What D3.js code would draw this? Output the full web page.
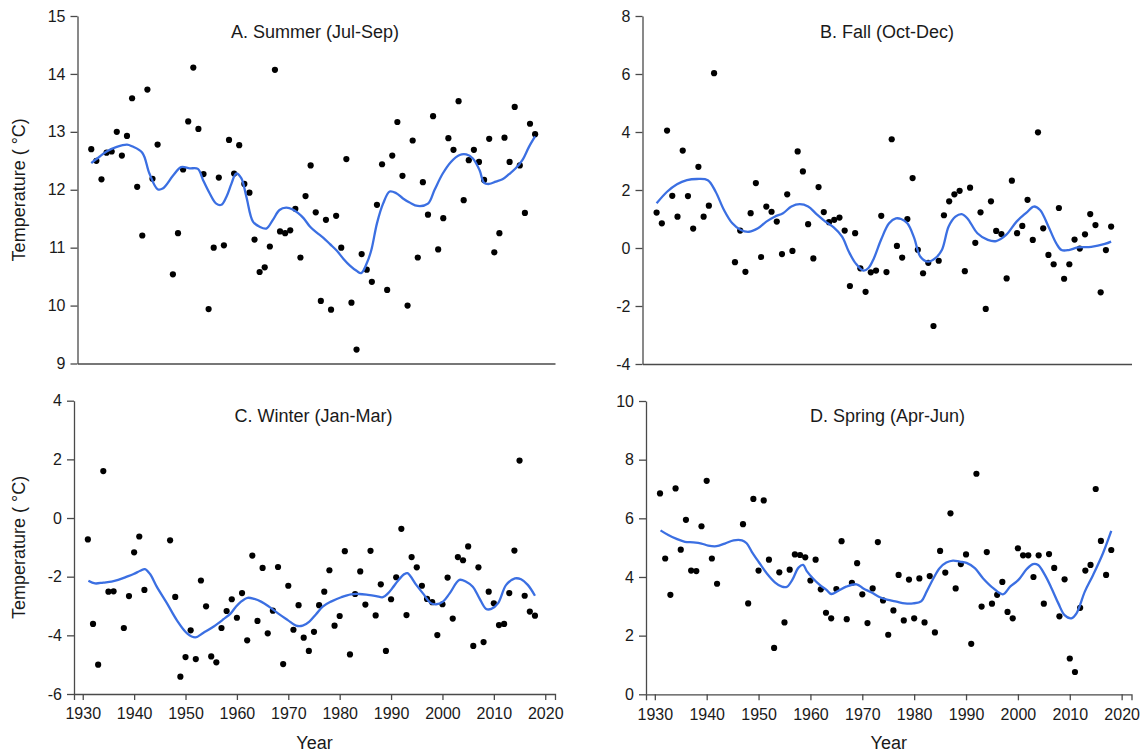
<!DOCTYPE html>
<html>
<head>
<meta charset="utf-8">
<script src="https://cdn.jsdelivr.net/npm/d3@7"></script>
<style>
  body { margin: 0; background: #fff; }
  svg { display: block; font-family: "Liberation Sans", Arial, sans-serif; }
  .axis path, .axis line { stroke: #4a4a4a; stroke-width: 1.3; }
  .axis text { fill: #1a1a1a; font-size: 16px; font-family: "Liberation Sans", Arial, sans-serif; }
</style>
</head>
<body>
<svg id="chart" width="1146" height="752"></svg>
<script>
const years = [1931,1932,1933,1934,1935,1936,1937,1938,1939,1940,1941,1942,1943,1944,1945,1946,1947,1948,1949,1950,
  1951,1952,1953,1954,1955,1956,1957,1958,1959,1960,1961,1962,1963,1964,1965,1966,1967,1968,1969,1970,
  1971,1972,1973,1974,1975,1976,1977,1978,1979,1980,1981,1982,1983,1984,1985,1986,1987,1988,1989,1990,
  1991,1992,1993,1994,1995,1996,1997,1998,1999,2000,2001,2002,2003,2004,2005,2006,2007,2008,2009,2010,
  2011,2012,2013,2014,2015,2016,2017,2018];

// seasonal mean temperatures, one per year above (null = no data)
const summer = [12.70,12.50,12.18,12.64,12.66,13.00,12.59,12.93,13.58,12.05,11.21,13.73,12.19,12.78,null,null,10.54,11.25,12.35,13.18,
  14.11,13.05,12.27,9.94,11.00,12.21,11.04,12.86,12.28,12.77,12.10,11.95,11.14,10.58,10.66,11.02,14.07,11.28,11.25,11.30,
  11.67,10.83,11.89,12.42,11.61,10.08,11.48,9.93,11.55,11.00,12.53,10.05,9.24,10.89,10.62,10.41,11.74,12.44,10.27,12.59,
  13.17,12.24,10.00,12.85,10.83,12.13,11.57,13.27,10.97,11.51,12.89,12.69,13.53,11.82,12.51,12.69,12.48,12.17,12.88,10.92,
  11.25,12.90,12.48,13.43,12.42,11.60,13.14,12.96];
const fall = [1.22,0.85,4.05,1.80,1.08,3.36,1.79,0.67,2.80,1.08,1.46,6.03,null,null,null,-0.49,0.60,-0.82,1.20,2.24,
  -0.31,1.43,1.25,0.91,-0.21,1.85,-0.10,3.33,2.64,0.82,-0.36,2.10,1.24,0.89,0.97,1.05,0.60,-1.31,0.51,-0.70,
  -1.51,-0.84,-0.78,1.11,-0.83,3.75,0.07,-0.33,1.00,2.41,-0.06,-0.87,-0.51,-2.69,-0.44,1.13,1.61,1.85,1.97,-0.80,
  2.08,0.18,1.23,-2.10,1.61,0.59,0.48,-1.05,2.32,0.51,0.76,1.66,0.28,3.99,0.68,-0.24,-0.56,1.38,-1.06,-0.56,
  0.29,-0.02,0.47,1.17,0.79,-1.53,-0.07,0.74];
const winter = [-0.73,-3.61,-5.00,1.60,-2.51,-2.50,null,-3.75,-2.66,-1.17,-0.63,-2.45,null,null,null,null,-0.76,-2.69,-5.41,-4.74,
  -3.83,-4.81,-2.13,-3.01,-4.72,-4.92,-3.75,-3.17,-2.77,-3.40,-2.56,-4.17,-1.28,-3.51,-1.70,-3.93,-3.16,-1.67,-4.98,-2.31,
  -3.81,-2.97,-4.08,-4.53,-3.88,-2.97,-2.51,-1.78,-3.67,-3.34,-1.13,-4.65,-2.59,-1.82,-2.95,-1.12,-3.32,-2.26,-4.53,-2.77,
  -2.02,-0.37,-3.31,-1.33,-1.68,-2.31,-2.76,-2.87,-3.99,-2.94,-2.03,-3.43,-1.33,-1.44,-0.97,-4.36,-1.68,-4.23,-2.51,-2.91,
  -3.65,-3.61,-2.56,-1.11,1.96,-2.65,-3.19,-3.33];
const spring = [6.85,4.63,3.39,7.02,4.93,5.95,4.22,4.20,5.73,7.28,4.63,3.77,null,null,null,null,5.80,3.10,6.66,4.22,
  6.61,4.59,1.58,4.16,2.45,4.25,4.77,4.75,4.67,3.88,4.59,3.58,2.78,2.59,3.59,5.22,2.56,3.80,4.47,3.41,
  2.43,3.61,5.19,3.20,2.03,2.86,4.07,2.52,3.91,2.59,3.95,2.45,4.03,2.11,4.89,4.15,6.17,3.61,4.44,4.77,
  1.72,7.52,2.99,4.85,3.09,3.39,3.83,2.81,2.59,4.98,4.74,4.74,4.00,4.74,3.09,4.78,4.31,2.66,3.92,1.22,
  0.76,2.95,4.22,4.41,7.00,5.23,4.07,4.92];

// smoothed trend lines, [year, value]
const summerFit = [[1931,12.46],[1932.6,12.57],[1934,12.66],[1936,12.74],[1938,12.78],[1939,12.75],[1941,12.64],[1942.4,12.28],
  [1944,12.01],[1945,12.02],[1947,12.24],[1948.6,12.39],[1950.3,12.37],[1951.9,12.36],[1952.9,12.17],[1954.2,11.94],
  [1955.5,11.76],[1956.5,11.74],[1957.5,11.88],[1958.5,12.11],[1959.4,12.28],[1960.4,12.20],[1961.4,11.88],[1962.7,11.45],
  [1964,11.36],[1965.3,11.33],[1966.6,11.48],[1967.9,11.65],[1969.2,11.69],[1970.5,11.66],[1971.5,11.60],[1972.6,11.51],
  [1973.9,11.36],[1975.2,11.26],[1976.5,11.17],[1977.8,11.06],[1979.1,10.95],[1980.4,10.81],[1981.7,10.69],[1983,10.60],
  [1983.9,10.56],[1985,10.73],[1985.9,10.96],[1987,11.42],[1988.2,11.76],[1989.5,11.97],[1990.8,11.94],[1992.1,11.85],
  [1993.4,11.78],[1995,11.72],[1997,11.76],[1998.3,12.00],[1999.9,12.28],[2001.5,12.48],[2003.2,12.60],[2004.5,12.61],
  [2005.8,12.54],[2007.1,12.34],[2008,12.12],[2009,12.10],[2010.3,12.14],[2011.6,12.18],[2012.9,12.27],[2014.2,12.37],
  [2015.5,12.51],[2016.8,12.74],[2018,12.92]];
const fallFit = [[1931,1.54],[1933,1.94],[1934.9,2.20],[1936.8,2.34],[1938.7,2.38],[1940.8,2.34],[1942.3,1.94],[1943.9,1.31],
  [1945.5,0.85],[1947.1,0.62],[1948.7,0.56],[1950.4,0.68],[1952,0.91],[1953.6,1.08],[1955.2,1.20],[1956.8,1.43],
  [1958.4,1.51],[1960,1.43],[1961.6,1.17],[1963.3,0.91],[1964.9,0.71],[1966.5,0.39],[1967.8,-0.13],[1969.1,-0.53],
  [1970.6,-0.78],[1971.6,-0.68],[1972.6,-0.35],[1974,0.30],[1975.5,0.85],[1976.8,1.02],[1977.8,1.00],[1979,0.85],
  [1980.3,0.35],[1981.5,-0.30],[1983,-0.47],[1984.3,-0.36],[1985.6,-0.07],[1986.9,0.74],[1988.2,1.08],[1989.4,1.17],
  [1990.5,1.02],[1992.4,0.51],[1994.4,0.28],[1996,0.24],[1997.9,0.45],[1999.9,0.91],[2001.8,1.22],[2003.2,1.43],
  [2004.4,1.31],[2006,0.74],[2007.5,0.16],[2008.5,-0.07],[2009.9,-0.07],[2011.6,0.02],[2014.2,0.04],[2016.8,0.14],[2018,0.22]];
const winterFit = [[1931.1,-2.14],[1932.4,-2.23],[1934,-2.20],[1935.6,-2.17],[1936.9,-2.11],[1938.6,-2.00],[1939.9,-1.91],
  [1941.2,-1.80],[1942.1,-1.74],[1943.1,-1.91],[1944.4,-2.34],[1946.4,-2.91],[1948.3,-3.48],[1950.3,-3.93],[1951.9,-4.07],
  [1953.5,-3.91],[1955.5,-3.70],[1957.4,-3.45],[1958.8,-3.25],[1959.7,-3.05],[1960.8,-2.85],[1962.1,-2.72],[1963.4,-2.76],
  [1964.7,-2.85],[1966,-2.99],[1968,-3.25],[1969.9,-3.48],[1971.5,-3.67],[1972.8,-3.67],[1974.1,-3.53],[1975.4,-3.28],
  [1976.7,-3.02],[1978.3,-2.85],[1980.3,-2.70],[1982.2,-2.60],[1983.8,-2.59],[1985.5,-2.62],[1987.1,-2.66],[1988.4,-2.70],
  [1989.4,-2.57],[1990.3,-2.38],[1991.3,-2.15],[1992.6,-1.91],[1993.2,-1.88],[1994.9,-2.28],[1996.2,-2.57],[1997.8,-2.91],
  [1998.8,-2.94],[2000.1,-2.85],[2001.4,-2.57],[2003.3,-2.11],[2004.6,-2.17],[2005.9,-2.34],[2007.2,-2.74],[2008.5,-3.10],
  [2009.5,-3.10],[2010.8,-2.91],[2012.4,-2.28],[2014.1,-2.06],[2015.3,-2.09],[2016.6,-2.28],[2018,-2.65]];
const springFit = [[1931.1,5.59],[1932.6,5.43],[1934.2,5.30],[1935.8,5.20],[1937.4,5.18],[1939,5.14],[1940.3,5.07],
  [1941.9,5.05],[1943.5,5.14],[1945.2,5.25],[1946.8,5.25],[1947.7,5.15],[1948.7,4.86],[1950,4.52],[1951.6,4.12],
  [1953.2,3.81],[1954.5,3.67],[1955.5,3.67],[1956.5,3.90],[1957.7,4.32],[1958.6,4.41],[1959.3,4.20],[1960.5,3.95],
  [1961.8,3.73],[1963.1,3.56],[1964,3.42],[1965.3,3.52],[1966.9,3.67],[1968.9,3.75],[1970.2,3.61],[1971.8,3.47],
  [1973.4,3.31],[1975,3.22],[1976.6,3.16],[1978.2,3.10],[1979.8,3.10],[1981.4,3.18],[1982.4,3.50],[1983.7,3.95],
  [1984.9,4.30],[1986.2,4.49],[1987.5,4.56],[1988.8,4.52],[1990.1,4.48],[1991.7,4.30],[1993.3,3.95],[1995.3,3.61],
  [1997.1,3.41],[1998.5,3.67],[2000.1,3.90],[2001.7,4.27],[2002.9,4.44],[2003.9,4.41],[2005.2,4.07],[2006.5,3.61],
  [2007.8,3.10],[2009,2.70],[2010.3,2.59],[2011.3,2.76],[2012.9,3.50],[2014.5,4.07],[2016.4,4.81],[2018,5.57]];

const titles = ["A. Summer (Jul-Sep)", "B. Fall (Oct-Dec)", "C. Winter (Jan-Mar)", "D. Spring (Apr-Jun)"];
const yearTicks = [1930, 1940, 1950, 1960, 1970, 1980, 1990, 2000, 2010, 2020];
const summerTicks = [9, 10, 11, 12, 13, 14, 15];
const fallTicks = [-4, -2, 0, 2, 4, 6, 8];
const winterTicks = [-6, -4, -2, 0, 2, 4];
const springTicks = [0, 2, 4, 6, 8, 10];

const svg = d3.select("#chart");
const xDomain = [1928.3, 2021.9];

const panels = [
  { title: titles[0], values: summer, fit: summerFit, ticks: summerTicks, x: [77.5, 555], y: [363.5, 16], titleX: 315, titleY: 38, yLabel: true, xLabels: false },
  { title: titles[1], values: fall, fit: fallFit, ticks: fallTicks, x: [642.5, 1131.5], y: [364, 16], titleX: 887, titleY: 38, yLabel: false, xLabels: false },
  { title: titles[2], values: winter, fit: winterFit, ticks: winterTicks, x: [74, 555], y: [694, 400.7], titleX: 313.5, titleY: 422, yLabel: true, xLabels: true },
  { title: titles[3], values: spring, fit: springFit, ticks: springTicks, x: [646, 1131.5], y: [694.3, 401], titleX: 887.5, titleY: 422, yLabel: false, xLabels: true }
];

panels.forEach(p => {
  const x = d3.scaleLinear().domain(xDomain).range(p.x);
  const y = d3.scaleLinear().domain(d3.extent(p.ticks)).range(p.y);
  const g = svg.append("g");

  const xAxis = d3.axisBottom(x).tickSizeOuter(0);
  if (p.xLabels) {
    xAxis.tickValues(yearTicks).tickFormat(d3.format("d")).tickSize(6).tickPadding(8);
  } else {
    xAxis.tickValues([]);
  }
  g.append("g").attr("class", "axis")
    .attr("transform", `translate(0,${p.y[0]})`)
    .call(xAxis);

  g.append("g").attr("class", "axis")
    .attr("transform", `translate(${p.x[0]},0)`)
    .call(d3.axisLeft(y).tickValues(p.ticks).tickFormat(d3.format("d")).tickSize(7).tickPadding(5).tickSizeOuter(0));

  g.selectAll(".axis text").text(function () { return this.textContent.replace("\u2212", "-"); });

  g.append("text")
    .attr("x", p.titleX).attr("y", p.titleY)
    .attr("text-anchor", "middle")
    .style("font-size", "18px").style("fill", "#1a1a1a")
    .text(p.title);

  const pts = years.map((yr, i) => [yr, p.values[i]]).filter(d => d[1] !== null);
  g.append("g").selectAll("circle").data(pts).join("circle")
    .attr("cx", d => x(d[0])).attr("cy", d => y(d[1]))
    .attr("r", 3.1).attr("fill", "#000");

  g.append("path")
    .datum(p.fit)
    .attr("fill", "none")
    .attr("stroke", "#3b6fe2")
    .attr("stroke-width", 2.3)
    .attr("d", d3.line().x(d => x(d[0])).y(d => y(d[1])).curve(d3.curveCatmullRom));

  if (p.yLabel) {
    g.append("text")
      .attr("transform", `translate(25,${(p.y[0] + p.y[1]) / 2}) rotate(-90)`)
      .attr("text-anchor", "middle")
      .style("font-size", "18px").style("fill", "#1a1a1a")
      .text("Temperature ( \u00B0C)");
  }
  if (p.xLabels) {
    g.append("text")
      .attr("x", (p.x[0] + p.x[1]) / 2 + 0).attr("y", 749)
      .attr("text-anchor", "middle")
      .style("font-size", "18px").style("fill", "#1a1a1a")
      .text("Year");
  }
});
</script>
</body>
</html>
